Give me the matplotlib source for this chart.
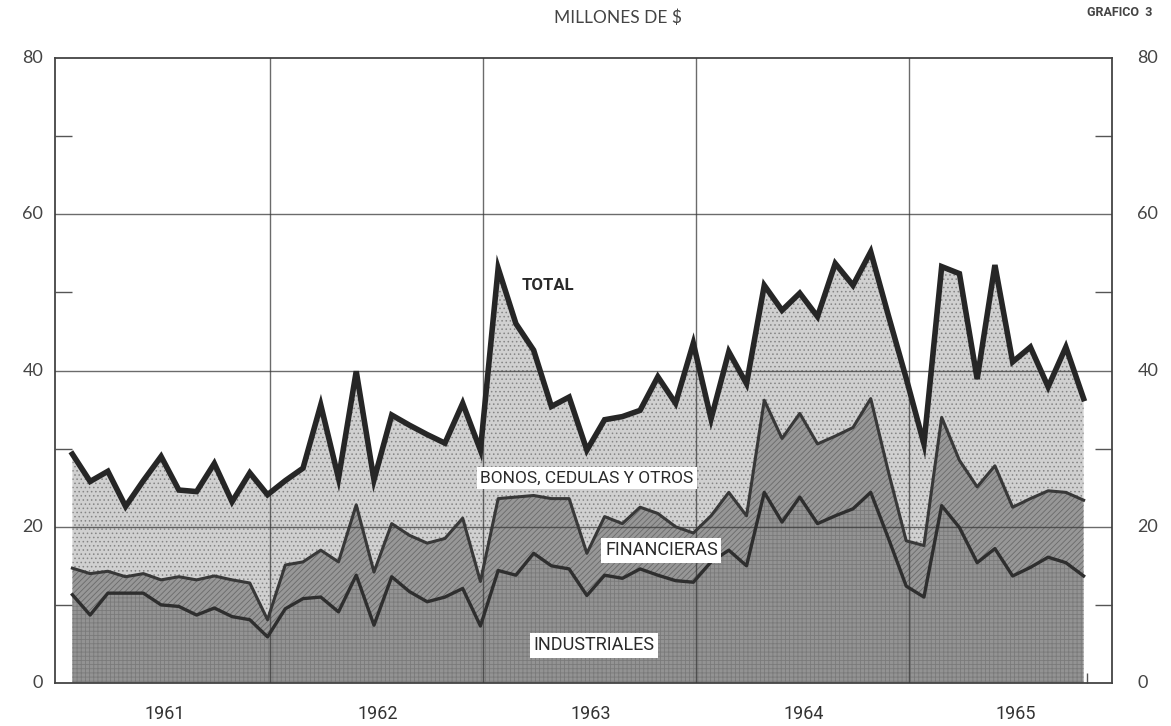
import numpy as np
import matplotlib
matplotlib.use("Agg")
import matplotlib.pyplot as plt

# monthly values, Jan 1961 - Oct 1965 (millones de $)
industriales = [
    11.3, 8.7, 11.5, 11.5, 11.5, 10.0, 9.8, 8.7, 9.6, 8.5, 8.1, 5.9,
    9.5, 10.8, 11.0, 9.1, 13.8, 7.4, 13.6, 11.7, 10.4, 11.0, 12.1, 7.3,
    14.4, 13.8, 16.6, 15.0, 14.6, 11.2, 13.8, 13.4, 14.6, 13.8, 13.1, 12.9,
    15.5, 17.0, 15.0, 24.4, 20.6, 23.8, 20.4, 21.4, 22.3, 24.4, 18.5, 12.4,
    11.0, 22.7, 19.9, 15.4, 17.2, 13.7, 14.8, 16.1, 15.4, 13.7,
]
financieras = [
    3.4, 5.3, 2.8, 2.1, 2.5, 3.2, 3.8, 4.5, 4.1, 4.7, 4.7, 2.2,
    5.6, 4.7, 6.0, 6.4, 9.0, 6.8, 6.8, 7.2, 7.5, 7.5, 9.0, 5.7,
    9.2, 10.0, 7.4, 8.6, 9.0, 5.4, 7.5, 7.0, 7.9, 7.9, 6.9, 6.3,
    5.9, 7.4, 6.4, 11.8, 10.7, 10.7, 10.2, 10.2, 10.4, 12.0, 8.5, 5.8,
    6.6, 11.3, 8.6, 9.7, 10.6, 8.8, 8.8, 8.5, 9.0, 9.7,
]
bonos = [
    14.6, 11.8, 12.8, 9.0, 11.9, 15.8, 11.1, 11.3, 14.4, 10.0, 14.1, 16.0,
    10.8, 12.0, 18.6, 10.7, 17.1, 11.8, 13.9, 14.1, 13.9, 12.2, 14.7, 16.8,
    29.5, 22.2, 18.6, 11.8, 13.0, 13.2, 12.4, 13.7, 12.4, 17.5, 15.8, 24.3,
    12.4, 18.0, 16.9, 14.7, 16.4, 15.4, 16.3, 22.1, 18.2, 18.8, 20.0, 20.8,
    13.0, 19.3, 23.9, 13.8, 25.7, 18.6, 19.4, 13.3, 18.6, 13.0,
]
years = ["1961", "1962", "1963", "1964", "1965"]
yticks = [0, 20, 40, 60, 80]

plt.rcParams["hatch.linewidth"] = 0.6
narrow = ["Liberation Sans Narrow", "Roboto", "DejaVu Sans"]
thin = ["Lato", "DejaVu Sans"]

ind = np.array(industriales)
fin = ind + np.array(financieras)
tot = fin + np.array(bonos)
x = np.arange(len(ind))

fig = plt.figure(figsize=(11.71, 7.26), dpi=100)
ax = fig.add_axes([55 / 1171, 1 - 683 / 726, (1112 - 55) / 1171, (683 - 58) / 726])

ax.fill_between(x, fin, tot, facecolor="#d0d0d0", edgecolor="#858585",
                hatch="....", linewidth=0, zorder=1)
ax.fill_between(x, ind, fin, facecolor="#979797", edgecolor="#6a6a6a",
                hatch="//////", linewidth=0, zorder=1)
ax.fill_between(x, 0, ind, facecolor="#939393", edgecolor="#7a7a7a",
                hatch="++++", linewidth=0, zorder=1)

ax.plot(x, tot, color="#262626", lw=4, solid_joinstyle="miter", zorder=4)
ax.plot(x, fin, color="#383838", lw=2.2, zorder=4)
ax.plot(x, ind, color="#2e2e2e", lw=2.4, zorder=4)

# grid
for yv in [20, 40, 60]:
    ax.axhline(yv, color="#3a3a3a", lw=1.0, alpha=0.75, zorder=3)
for k in range(4):
    ax.axvline(11.15 + 12 * k, color="#3a3a3a", lw=1.0, alpha=0.75, zorder=3)

ax.set_xlim(-0.98, 58.6)
ax.set_ylim(0, 80)
for s in ax.spines.values():
    s.set_color("#444444")
    s.set_linewidth(1.3)

ax.set_yticks([10, 30, 50, 70])
ax.set_yticklabels([])
ax.tick_params(axis="y", direction="in", length=12, width=1, color="#555555",
               left=True, right=True)
ax.set_xticks([57.2])
ax.set_xticklabels([])
ax.tick_params(axis="x", direction="in", length=7, width=1, color="#555555")

for v in yticks:
    ax.text(-0.011, v, str(v), transform=ax.get_yaxis_transform(), ha="right",
            va="center", fontsize=13, color="#444444", family=thin)
    ax.text(1.024, v, str(v), transform=ax.get_yaxis_transform(), ha="left",
            va="center", fontsize=13, color="#444444", family=thin)

for k, yr in enumerate(years):
    ax.text(5.2 + 12 * k, -4.0, yr, ha="center", va="center", fontsize=13,
            color="#333333", family=narrow, clip_on=False)

box = dict(boxstyle="square,pad=0.2", facecolor="white", edgecolor="none")
ax.text(26.8, 50.9, "TOTAL", ha="center", va="center", fontsize=12,
        fontweight="bold", color="#2a2a2a", family=narrow, zorder=6)
ax.text(29.0, 26.2, "BONOS, CEDULAS Y OTROS", ha="center", va="center",
        fontsize=12.5, color="#2a2a2a", family=narrow, bbox=box, zorder=6)
ax.text(33.2, 17.0, "FINANCIERAS", ha="center", va="center", fontsize=13,
        color="#2a2a2a", family=narrow, bbox=box, zorder=6)
ax.text(29.4, 4.8, "INDUSTRIALES", ha="center", va="center", fontsize=13,
        color="#2a2a2a", family=narrow, bbox=box, zorder=6)

fig.text(618 / 1171, 1 - 18 / 726, "MILLONES DE $", ha="center", va="center",
         fontsize=12.5, color="#444444", family=thin)
fig.text(1120 / 1171, 1 - 12 / 726, "GRAFICO  3", ha="center", va="center",
         fontsize=9, fontweight="bold", color="#444444", family=narrow)

fig.savefig("out.png", dpi=100, facecolor="white")
